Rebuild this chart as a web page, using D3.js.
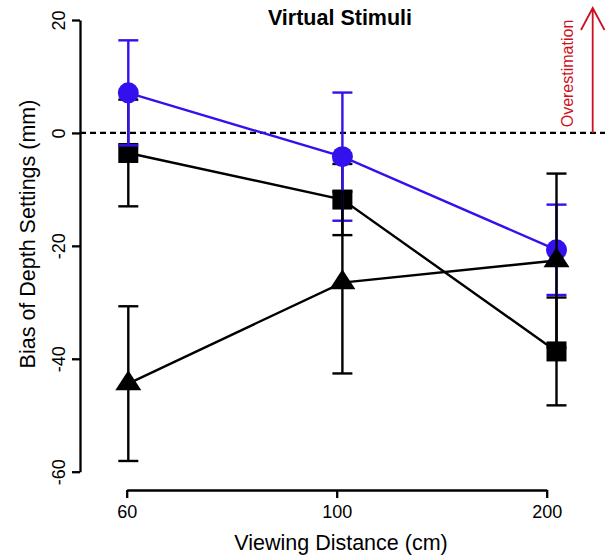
<!DOCTYPE html>
<html>
<head>
<meta charset="utf-8">
<script src="https://cdn.jsdelivr.net/npm/d3@7"></script>
<style>
  body { margin: 0; background: #fff; }
  svg { display: block; font-family: "Liberation Sans", Arial, Helvetica, sans-serif; }
</style>
</head>
<body>
<svg id="chart" width="614" height="558"></svg>
<script>
// viewing distances (cm)
const distances = ["60", "100", "200"];
const yTicks = [-60, -40, -20, 0, 20];

// mean bias and error half-width per distance
const circleMean = [7.1, -4.2, -20.7];
const circleErr = [9.3, 11.35, 8.0];
const squareMean = [-3.55, -11.8, -38.7];
const squareErr = [9.45, 6.3, 9.55];
const triangleMean = [-44.4, -26.5, -22.6];
const triangleErr = [13.7, 16.1, 15.4];

const blue = "#3311ee";
const red = "#cc1122";

let svg = d3.select("#chart");

let y = d3.scaleLinear().domain([-60, 20]).range([471.7, 20]);
// axis tick positions and mark positions are slightly different in the original
let xAxisScale = d3.scalePoint().domain(distances).range([126.7, 546.7]);
let x = d3.scalePoint().domain(distances).range([128.3, 556.5]);

// y axis (plain hyphen for negatives, like the original)
let yAxis = d3.axisLeft(y).tickValues(yTicks).tickSize(8).tickSizeOuter(0).tickFormat(d => String(d));
let gy = svg.append("g").attr("transform", "translate(80,0)").call(yAxis);
gy.select(".domain").attr("stroke", "#000").attr("stroke-width", 2.3);
gy.selectAll(".tick line").attr("stroke-width", 2.3);
gy.selectAll(".tick text")
    .attr("font-size", 18)
    .attr("x", 0).attr("dy", 0)
    .attr("transform", "translate(-15,0) rotate(-90)")
    .style("text-anchor", "middle");

// x axis
let xAxis = d3.axisBottom(xAxisScale).tickSize(8).tickSizeOuter(0).tickPadding(7);
let gx = svg.append("g").attr("transform", "translate(0,490)").call(xAxis);
gx.select(".domain").attr("stroke-width", 2.3);
gx.selectAll(".tick line").attr("stroke-width", 2.3);
gx.selectAll(".tick text").attr("font-size", 18).attr("fill", "#000");

// zero reference
svg.append("line")
    .attr("x1", 80).attr("x2", 605)
    .attr("y1", y(0)).attr("y2", y(0))
    .attr("stroke", "#000").attr("stroke-width", 2.3)
    .attr("stroke-dasharray", "6,4");

function drawSeries(means, errs, color, shape) {
    let pts = distances.map((d, i) => ({d: d, m: means[i], e: errs[i]}));
    let g = svg.append("g");

    g.append("path")
        .datum(pts)
        .attr("fill", "none")
        .attr("stroke", color)
        .attr("stroke-width", 2.4)
        .attr("d", d3.line().x(p => x(p.d)).y(p => y(p.m)));

    pts.forEach(p => {
        let cx = x(p.d);
        g.append("line")
            .attr("x1", cx).attr("x2", cx)
            .attr("y1", y(p.m + p.e)).attr("y2", y(p.m - p.e))
            .attr("stroke", color).attr("stroke-width", 2.4);
        [p.m + p.e, p.m - p.e].forEach(v => {
            g.append("line")
                .attr("x1", cx - 10).attr("x2", cx + 10)
                .attr("y1", y(v)).attr("y2", y(v))
                .attr("stroke", color).attr("stroke-width", 2.4);
        });

        let cy = y(p.m);
        if (shape === "circle") {
            g.append("circle").attr("cx", cx).attr("cy", cy).attr("r", 10.5).attr("fill", color);
        } else if (shape === "square") {
            g.append("rect").attr("x", cx - 10).attr("y", cy - 10)
                .attr("width", 20).attr("height", 20).attr("fill", color);
        } else {
            g.append("path")
                .attr("d", `M${cx},${cy - 13.3}L${cx + 13},${cy + 6.7}L${cx - 13},${cy + 6.7}Z`)
                .attr("fill", color);
        }
    });
}

drawSeries(squareMean, squareErr, "#000", "square");
drawSeries(circleMean, circleErr, blue, "circle");
drawSeries(triangleMean, triangleErr, "#000", "triangle");

// overestimation arrow
svg.append("path")
    .attr("d", `M592.7,${y(0)}L592.7,8M581,30L592.7,8L604.5,30`)
    .attr("fill", "none")
    .attr("stroke", red)
    .attr("stroke-width", 1.8);

svg.append("text")
    .attr("transform", "translate(573,73.5) rotate(-90)")
    .attr("text-anchor", "middle")
    .attr("font-size", 16)
    .attr("fill", red)
    .text("Overestimation");

// titles
svg.append("text")
    .attr("x", 340).attr("y", 25)
    .attr("text-anchor", "middle")
    .attr("font-size", 21.5)
    .attr("font-weight", "bold")
    .text("Virtual Stimuli");

svg.append("text")
    .attr("x", 341).attr("y", 550)
    .attr("text-anchor", "middle")
    .attr("font-size", 21.5)
    .text("Viewing Distance (cm)");

svg.append("text")
    .attr("transform", "translate(35,234) rotate(-90)")
    .attr("text-anchor", "middle")
    .attr("font-size", 21.5)
    .text("Bias of Depth Settings (mm)");
</script>
</body>
</html>
